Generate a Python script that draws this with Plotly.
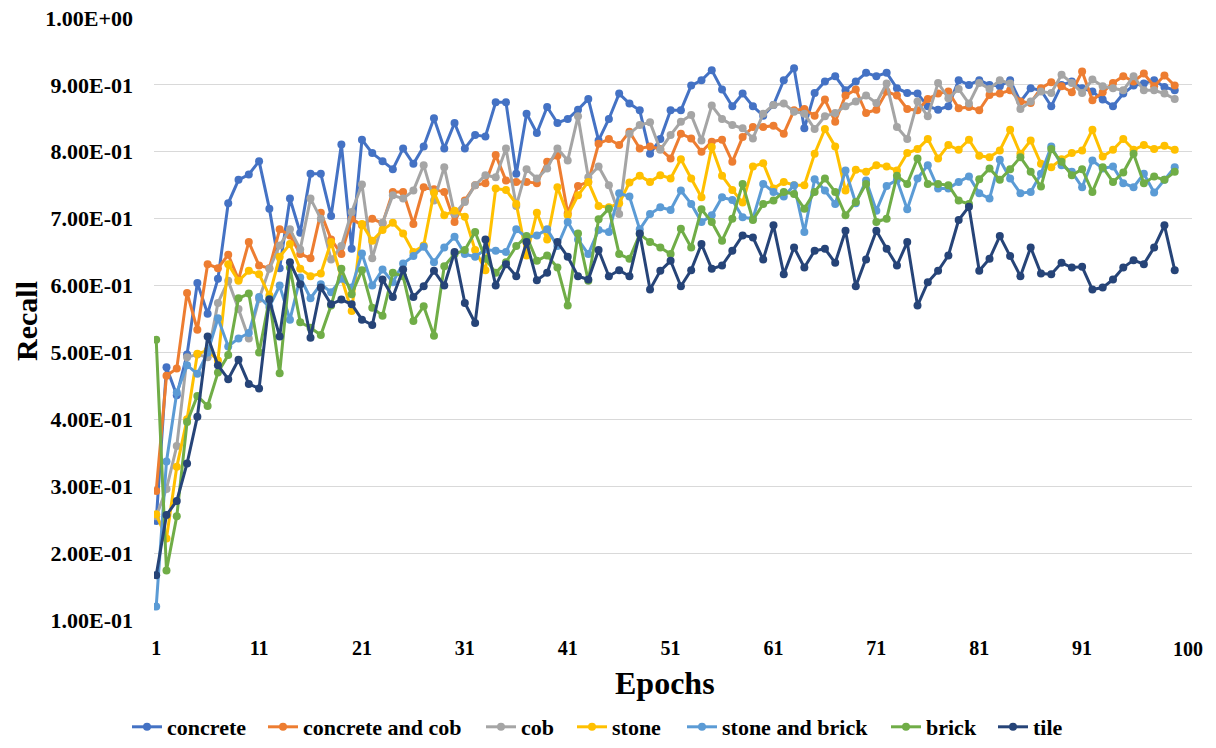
import plotly.graph_objects as go

epochs = list(range(1, 101))

concrete = [0.248, 0.478, 0.436, 0.497, 0.604, 0.558, 0.610, 0.723, 0.758, 0.766,
            0.786, 0.715, 0.626, 0.730, 0.679, 0.767, 0.767, 0.704, 0.811, 0.655,
            0.818, 0.798, 0.786, 0.774, 0.805, 0.782, 0.808, 0.850, 0.805, 0.843,
            0.805, 0.825, 0.823, 0.874, 0.874, 0.767, 0.857, 0.828, 0.867, 0.843,
            0.849, 0.863, 0.879, 0.817, 0.849, 0.887, 0.872, 0.862, 0.797, 0.819,
            0.862, 0.862, 0.899, 0.907, 0.922, 0.893, 0.868, 0.887, 0.868, 0.854,
            0.870, 0.907, 0.925, 0.835, 0.888, 0.905, 0.913, 0.892, 0.905, 0.918,
            0.913, 0.918, 0.895, 0.888, 0.887, 0.868, 0.863, 0.868, 0.907, 0.900,
            0.907, 0.900, 0.898, 0.907, 0.875, 0.895, 0.892, 0.868, 0.900, 0.905,
            0.895, 0.890, 0.878, 0.868, 0.887, 0.899, 0.902, 0.907, 0.897, 0.892]

concrete_and_cob = [0.293, 0.465, 0.476, 0.589, 0.534, 0.632, 0.626, 0.646, 0.609, 0.665,
                    0.630, 0.626, 0.684, 0.675, 0.647, 0.641, 0.709, 0.669, 0.647, 0.700,
                    0.690, 0.700, 0.693, 0.740, 0.740, 0.692, 0.747, 0.744, 0.740, 0.695,
                    0.727, 0.750, 0.753, 0.795, 0.757, 0.755, 0.755, 0.753, 0.785, 0.794,
                    0.708, 0.749, 0.755, 0.812, 0.819, 0.810, 0.830, 0.805, 0.808, 0.804,
                    0.790, 0.827, 0.820, 0.800, 0.815, 0.818, 0.785, 0.822, 0.837, 0.837,
                    0.839, 0.827, 0.862, 0.864, 0.854, 0.878, 0.845, 0.884, 0.893, 0.858,
                    0.863, 0.890, 0.884, 0.864, 0.862, 0.879, 0.887, 0.890, 0.865, 0.867,
                    0.862, 0.885, 0.887, 0.892, 0.875, 0.873, 0.895, 0.904, 0.898, 0.889,
                    0.920, 0.877, 0.889, 0.903, 0.913, 0.905, 0.917, 0.898, 0.914, 0.899]

cob = [0.255, 0.296, 0.360, 0.493, 0.497, 0.493, 0.574, 0.607, 0.565, 0.521,
       0.580, 0.625, 0.660, 0.684, 0.654, 0.730, 0.700, 0.639, 0.659, 0.710,
       0.751, 0.641, 0.694, 0.735, 0.730, 0.742, 0.780, 0.727, 0.777, 0.707,
       0.725, 0.750, 0.765, 0.762, 0.805, 0.719, 0.774, 0.760, 0.775, 0.805,
       0.787, 0.853, 0.762, 0.778, 0.750, 0.707, 0.827, 0.840, 0.844, 0.803,
       0.825, 0.845, 0.855, 0.817, 0.869, 0.849, 0.840, 0.835, 0.820, 0.857,
       0.870, 0.872, 0.860, 0.857, 0.834, 0.853, 0.858, 0.868, 0.875, 0.884,
       0.873, 0.902, 0.837, 0.819, 0.875, 0.853, 0.903, 0.880, 0.894, 0.872,
       0.903, 0.894, 0.907, 0.902, 0.864, 0.875, 0.890, 0.888, 0.915, 0.903,
       0.888, 0.908, 0.898, 0.895, 0.892, 0.913, 0.892, 0.892, 0.887, 0.879]

stone = [0.258, 0.222, 0.329, 0.400, 0.498, 0.503, 0.488, 0.632, 0.607, 0.622,
         0.617, 0.585, 0.643, 0.662, 0.625, 0.614, 0.618, 0.665, 0.612, 0.562,
         0.692, 0.667, 0.683, 0.694, 0.678, 0.650, 0.660, 0.739, 0.705, 0.712,
         0.703, 0.653, 0.623, 0.745, 0.743, 0.722, 0.645, 0.709, 0.669, 0.747,
         0.705, 0.735, 0.755, 0.719, 0.717, 0.723, 0.754, 0.764, 0.755, 0.765,
         0.760, 0.789, 0.760, 0.732, 0.807, 0.764, 0.743, 0.724, 0.778, 0.783,
         0.745, 0.755, 0.750, 0.750, 0.797, 0.834, 0.808, 0.742, 0.773, 0.770,
         0.780, 0.778, 0.772, 0.798, 0.804, 0.819, 0.790, 0.810, 0.803, 0.818,
         0.794, 0.792, 0.802, 0.833, 0.797, 0.817, 0.782, 0.777, 0.789, 0.798,
         0.802, 0.833, 0.793, 0.803, 0.819, 0.803, 0.810, 0.804, 0.809, 0.803]

stone_and_brick = [0.120, 0.337, 0.440, 0.481, 0.468, 0.500, 0.551, 0.509, 0.521, 0.529,
                   0.583, 0.568, 0.600, 0.549, 0.612, 0.581, 0.602, 0.590, 0.610, 0.597,
                   0.648, 0.600, 0.624, 0.605, 0.633, 0.644, 0.658, 0.635, 0.657, 0.673,
                   0.647, 0.643, 0.654, 0.652, 0.650, 0.684, 0.672, 0.675, 0.684, 0.659,
                   0.695, 0.669, 0.647, 0.683, 0.680, 0.738, 0.733, 0.684, 0.707, 0.717,
                   0.713, 0.742, 0.722, 0.695, 0.705, 0.732, 0.728, 0.702, 0.700, 0.752,
                   0.740, 0.733, 0.750, 0.680, 0.759, 0.742, 0.722, 0.772, 0.723, 0.757,
                   0.712, 0.749, 0.758, 0.714, 0.760, 0.780, 0.745, 0.745, 0.755, 0.763,
                   0.738, 0.730, 0.788, 0.760, 0.738, 0.740, 0.767, 0.808, 0.780, 0.770,
                   0.747, 0.787, 0.775, 0.778, 0.753, 0.747, 0.767, 0.739, 0.758, 0.777]

brick = [0.519, 0.174, 0.255, 0.396, 0.435, 0.420, 0.470, 0.496, 0.581, 0.588,
         0.500, 0.580, 0.469, 0.627, 0.545, 0.537, 0.526, 0.570, 0.625, 0.587,
         0.623, 0.567, 0.555, 0.619, 0.614, 0.547, 0.569, 0.525, 0.629, 0.647,
         0.653, 0.680, 0.640, 0.619, 0.635, 0.659, 0.674, 0.637, 0.645, 0.627,
         0.570, 0.678, 0.607, 0.699, 0.715, 0.647, 0.640, 0.677, 0.665, 0.657,
         0.647, 0.685, 0.657, 0.714, 0.695, 0.667, 0.700, 0.752, 0.698, 0.722,
         0.727, 0.740, 0.737, 0.715, 0.740, 0.760, 0.740, 0.705, 0.725, 0.752,
         0.695, 0.700, 0.764, 0.752, 0.790, 0.752, 0.752, 0.750, 0.727, 0.722,
         0.759, 0.775, 0.758, 0.774, 0.792, 0.770, 0.748, 0.804, 0.785, 0.765,
         0.774, 0.740, 0.777, 0.755, 0.769, 0.797, 0.753, 0.763, 0.758, 0.770]

tile = [0.167, 0.257, 0.278, 0.334, 0.404, 0.524, 0.481, 0.460, 0.489, 0.453,
        0.446, 0.579, 0.524, 0.635, 0.602, 0.522, 0.597, 0.572, 0.579, 0.572,
        0.549, 0.541, 0.609, 0.583, 0.624, 0.583, 0.599, 0.622, 0.600, 0.650,
        0.574, 0.544, 0.669, 0.600, 0.632, 0.614, 0.665, 0.608, 0.619, 0.665,
        0.643, 0.614, 0.609, 0.653, 0.614, 0.623, 0.614, 0.678, 0.594, 0.622,
        0.637, 0.599, 0.623, 0.662, 0.625, 0.630, 0.652, 0.675, 0.672, 0.639,
        0.690, 0.617, 0.657, 0.627, 0.652, 0.655, 0.634, 0.682, 0.599, 0.639,
        0.682, 0.655, 0.630, 0.665, 0.570, 0.605, 0.622, 0.645, 0.698, 0.718,
        0.622, 0.640, 0.674, 0.644, 0.614, 0.657, 0.618, 0.617, 0.634, 0.627,
        0.628, 0.594, 0.597, 0.609, 0.627, 0.638, 0.632, 0.657, 0.690, 0.623]

series_names = ["concrete", "concrete and cob", "cob", "stone",
                "stone and brick", "brick", "tile"]
series_values = [concrete, concrete_and_cob, cob, stone, stone_and_brick, brick, tile]
series_colors = ["#4472C4", "#ED7D31", "#A5A5A5", "#FFC000",
                 "#5B9BD5", "#70AD47", "#264478"]

x_tick_vals = [1, 11, 21, 31, 41, 51, 61, 71, 81, 91]
x_tick_text = ["1", "11", "21", "31", "41", "51", "61", "71", "81", "91"]
y_tick_vals = [0.1, 0.2, 0.3, 0.4, 0.5, 0.6, 0.7, 0.8, 0.9, 1.0]
y_tick_text = ["1.00E-01", "2.00E-01", "3.00E-01", "4.00E-01", "5.00E-01",
               "6.00E-01", "7.00E-01", "8.00E-01", "9.00E-01", "1.00E+00"]

FONT = "Liberation Serif, Times New Roman, serif"
W, H = 1216, 748
ML, MR, MT, MB = 154, 24, 18, 128

# left edge (px) of each legend entry, so entries sit where the reference has them
legend_left_px = [127, 263, 481, 572, 682, 886, 993]

fig = go.Figure()
legend_layouts = {}
for i, (name, vals, col) in enumerate(zip(series_names, series_values, series_colors)):
    lname = "legend" if i == 0 else f"legend{i + 1}"
    fig.add_trace(go.Scatter(
        x=epochs, y=vals, name=name, mode="lines+markers",
        line=dict(color=col, width=3),
        marker=dict(color=col, size=8, symbol="circle"),
        legend=lname,
    ))
    legend_layouts[lname] = dict(
        orientation="h", xref="container", yref="container",
        x=legend_left_px[i] / W, xanchor="left", y=-5 / H, yanchor="bottom",
        font=dict(family=FONT, size=22, color="black", weight="bold"),
        itemwidth=30, bgcolor="rgba(0,0,0,0)",
    )

fig.update_layout(
    width=W, height=H,
    margin=dict(l=ML, r=MR, t=MT, b=MB, autoexpand=False),
    paper_bgcolor="white", plot_bgcolor="white",
    font=dict(family=FONT, color="black"),
    showlegend=True,
    xaxis=dict(
        range=[0.786, 101.68], tickmode="array", tickvals=x_tick_vals,
        ticktext=x_tick_text, showgrid=False, zeroline=False, showline=False,
        ticks="", ticklabelstandoff=14, automargin=False,
        tickfont=dict(family=FONT, size=20, color="black", weight="bold"),
    ),
    yaxis=dict(
        range=[0.1, 1.0], tickmode="array", tickvals=y_tick_vals,
        ticktext=y_tick_text, showgrid=True, gridcolor="#D9D9D9", gridwidth=1,
        zeroline=False, showline=False, ticks="", ticklabelstandoff=20,
        automargin=False,
        tickfont=dict(family=FONT, size=22, color="black", weight="bold"),
    ),
    **legend_layouts,
)

plot_w = W - ML - MR
plot_h = H - MT - MB

fig.add_annotation(
    text="100", xref="paper", yref="paper",
    x=(1188 - ML) / plot_w, y=-(649 - (H - MB)) / plot_h,
    xanchor="center", yanchor="middle", showarrow=False,
    font=dict(family=FONT, size=20, color="black", weight="bold"),
)
fig.add_annotation(
    text="Epochs", xref="paper", yref="paper",
    x=(665 - ML) / plot_w, y=-(683 - (H - MB)) / plot_h,
    xanchor="center", yanchor="middle", showarrow=False,
    font=dict(family=FONT, size=32, color="black", weight="bold"),
)
fig.add_annotation(
    text="Recall", xref="paper", yref="paper", textangle=-90,
    x=-(ML - 26) / plot_w, y=1 - (321 - MT) / plot_h,
    xanchor="center", yanchor="middle", showarrow=False,
    font=dict(family=FONT, size=30, color="black", weight="bold"),
)

fig.write_html("out.html")
